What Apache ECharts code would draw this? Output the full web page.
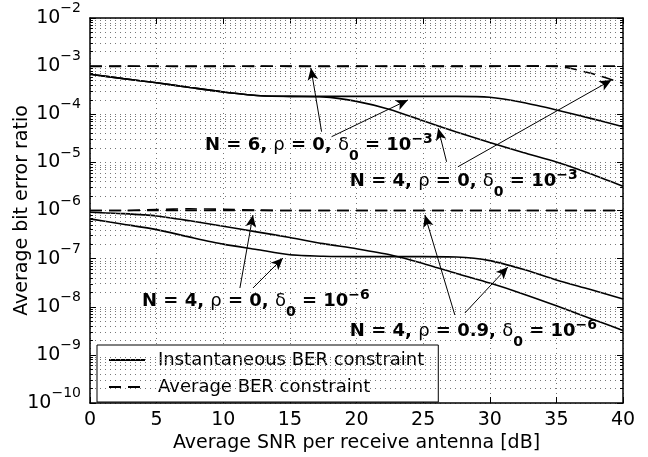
<!DOCTYPE html>
<html><head><meta charset="utf-8">
<script src="https://cdn.jsdelivr.net/npm/echarts@6/dist/echarts.min.js"></script>
<style>html,body{margin:0;padding:0;background:#fff}#c{width:648px;height:457px}</style>
</head><body><div id="c"></div>
<script>
// ---- data (BER values) ----
const snr = [0,2.5,5,7.5,10,12.5,15,17.5,20,22.5,25,27.5,30,32.5,35,37.5,40];
const instN6Rho0D3 = [6.8e-4,5.5e-4,4.5e-4,3.6e-4,2.9e-4,2.45e-4,2.35e-4,2.35e-4,2.35e-4,2.35e-4,2.35e-4,2.35e-4,2.25e-4,1.75e-4,1.23e-4,8.3e-5,5.5e-5];
const instN4Rho0D3 = [6.8e-4,5.5e-4,4.5e-4,3.6e-4,2.9e-4,2.45e-4,2.35e-4,2.3e-4,1.85e-4,1.26e-4,7.3e-5,4.3e-5,2.6e-5,1.6e-5,1.02e-5,5.9e-6,3.2e-6];
const avgN6Rho0D3 = [1e-3,1e-3,9.9e-4,1e-3,1e-3,9.9e-4,1e-3,1e-3,1e-3,9.9e-4,1e-3,1e-3,1e-3,1e-3,1e-3,1e-3,1e-3];
const avgN4Rho0D3 = [9.8e-4,9.9e-4,1e-3,9.8e-4,9.9e-4,1e-3,9.9e-4,9.8e-4,9.9e-4,1e-3,9.9e-4,9.9e-4,9.9e-4,1e-3,9.9e-4,7.2e-4,4.4e-4];
const instN4Rho09D6 = [9.2e-7,8.6e-7,7.7e-7,6.1e-7,4.7e-7,3.6e-7,2.75e-7,2.05e-7,1.6e-7,1.2e-7,7.9e-8,4.9e-8,3.1e-8,1.85e-8,1.05e-8,5.8e-9,3.2e-9];
const instN4Rho0D6 = [6.7e-7,5.2e-7,4.0e-7,2.8e-7,2.0e-7,1.55e-7,1.2e-7,1.12e-7,1.1e-7,1.1e-7,1.1e-7,1.08e-7,9.1e-8,6.0e-8,3.6e-8,2.3e-8,1.45e-8];
const avgN4Rho0D6 = [1e-6,1e-6,1e-6,1e-6,1e-6,1e-6,1e-6,1e-6,1e-6,1e-6,1e-6,1e-6,1e-6,1e-6,1e-6,1e-6,1e-6];
const avgN4Rho09D6 = [1e-6,1e-6,1.05e-6,1.08e-6,1.06e-6,1.02e-6,1e-6,1e-6,1e-6,1e-6,1e-6,1e-6,1e-6,1e-6,1e-6,1e-6,1e-6];

const xTickStep = 5;
const yDecades = [-10,-9,-8,-7,-6,-5,-4,-3,-2];
const minorMultipliers = [2,3,4,5,6,7,8,9];

// annotation labels: N, rho, exponent of delta0, anchor (snr, ber)
const annN = [6, 4, 4, 4];
const annRho = ['0', '0', '0', '0.9'];
const annExp = [-3, -3, -6, -6];
const annSnr = [8.63, 19.5, 3.9, 19.5];
const annBer = [2.3e-5, 3.97e-6, 1.31e-8, 3.13e-9];

// arrows: tail (snr, ber) -> head (snr, ber)
const arrTailSnr = [17.38, 18.13, 26.76, 27.61, 11.25, 12.23, 27.38, 28.13];
const arrTailBer = [4.34e-5, 3.42e-5, 1.03e-5, 8.1e-6, 2.45e-8, 2.45e-8, 6.75e-9, 7.4e-9];
const arrHeadSnr = [16.58, 23.86, 26.13, 39.14, 12.23, 14.48, 25.13, 31.36];
const arrHeadBer = [9.1e-4, 1.98e-4, 5.1e-5, 5.15e-4, 8.05e-7, 1.03e-7, 8.05e-7, 6.7e-8];

const INST = 'Instantaneous BER constraint';
const AVG = 'Average BER constraint';
const FONT = 'DejaVu Sans';
const MINUS = '\u2212';

const lg = v => Math.log10(v);
const toPts = arr => snr.map((x, i) => [x, lg(arr[i])]);

const minorGrid = [];
const minorTicks = [];
yDecades.slice(0, -1).forEach(d => minorMultipliers.forEach(k => {
  const y = d + lg(k);
  minorGrid.push({yAxis: y});
  minorTicks.push([{coord: [0, y]}, {coord: [0.22, y]}]);
  minorTicks.push([{coord: [39.78, y]}, {coord: [40, y]}]);
}));

const arrows = arrTailSnr.map((x, i) => [
  {coord: [x, lg(arrTailBer[i])]},
  {coord: [arrHeadSnr[i], lg(arrHeadBer[i])]}
]);

const annLabel = i => '{b|N = ' + annN[i] + ', }{g|\u03c1}{b| = ' + annRho[i] + ', }{g|\u03b4}{sub|0}{b| = 10}{sup|' + (annExp[i] < 0 ? MINUS + (-annExp[i]) : annExp[i]) + '}';

const solid = (arr) => ({
  type: 'line', name: INST, data: toPts(arr), symbol: 'none', smooth: 0.25, z: 3,
  lineStyle: {color: '#000', width: 1.6, type: 'solid'}, itemStyle: {color: '#000'}, silent: true
});
const dashed = (arr) => ({
  type: 'line', name: AVG, data: toPts(arr), symbol: 'none', smooth: 0.25, z: 3,
  lineStyle: {color: '#000', width: 1.6, type: [12, 7]}, itemStyle: {color: '#000'}, silent: true
});

const axisLineStyle = {show: true, onZero: false, lineStyle: {color: '#000', width: 1.5}};
const tickStyle = {show: true, inside: true, length: 6, lineStyle: {color: '#000', width: 1}};
const gridDots = {type: [1, 4], color: '#777', width: 1};

const chart = echarts.init(document.getElementById('c'), null, {renderer: 'canvas'});
chart.setOption({
  animation: false,
  backgroundColor: '#fff',
  textStyle: {fontFamily: FONT, color: '#000'},
  grid: {left: 90, right: 25, top: 18, bottom: 54, containLabel: false, outerBoundsMode: 'none'},
  legend: {
    data: [INST, AVG], orient: 'vertical', left: 97, top: 345,
    padding: [5, 14, 5, 11], itemGap: 7, itemWidth: 36, itemHeight: 3,
    itemStyle: {color: 'rgba(0,0,0,0)', borderColor: 'rgba(0,0,0,0)', borderWidth: 0, opacity: 0},
    backgroundColor: '#fff', borderColor: '#000', borderWidth: 1, borderRadius: 0,
    textStyle: {fontFamily: FONT, fontSize: 18, color: '#000', padding: [0, 0, 0, 8], lineHeight: 20},
    selectedMode: false
  },
  xAxis: [{
    type: 'value', min: 0, max: 40, interval: xTickStep, position: 'bottom',
    axisLine: axisLineStyle, axisTick: tickStyle,
    axisLabel: {fontFamily: FONT, fontSize: 19, color: '#000', margin: 8},
    splitLine: {show: true, lineStyle: gridDots},
    name: 'Average SNR per receive antenna [dB]', nameLocation: 'middle', nameGap: 31, nameMoveOverlap: false,
    nameTextStyle: {fontFamily: FONT, fontSize: 19, color: '#000'}
  }, {
    type: 'value', min: 0, max: 40, interval: xTickStep, position: 'top',
    axisLine: axisLineStyle, axisTick: tickStyle, axisLabel: {show: false}, splitLine: {show: false}
  }],
  yAxis: [{
    type: 'value', min: -10, max: -2, interval: 1, position: 'left',
    axisLine: axisLineStyle, axisTick: tickStyle,
    axisLabel: {
      margin: 9,
      formatter: v => '{b|10}{s|' + (v < 0 ? MINUS + (-v) : v) + '}',
      rich: {
        b: {fontFamily: FONT, fontSize: 19, color: '#000', lineHeight: 22, verticalAlign: 'middle'},
        s: {fontFamily: FONT, fontSize: 14, color: '#000', lineHeight: 14, verticalAlign: 'middle', padding: [0, 0, 19, 0]}
      }
    },
    splitLine: {show: true, lineStyle: gridDots},
    name: 'Average bit error ratio', nameLocation: 'middle', nameGap: 58, nameMoveOverlap: false,
    nameTextStyle: {fontFamily: FONT, fontSize: 19, color: '#000'}
  }, {
    type: 'value', min: -10, max: -2, interval: 1, position: 'right',
    axisLine: axisLineStyle, axisTick: tickStyle, axisLabel: {show: false}, splitLine: {show: false}
  }],
  series: [
    {
      type: 'line', name: 'grid', data: [], z: 1, silent: true,
      markLine: {silent: true, symbol: 'none', animation: false, label: {show: false},
        lineStyle: gridDots, data: minorGrid}
    },
    {
      type: 'line', name: 'ticks', data: [], z: 2, silent: true,
      markLine: {silent: true, symbol: 'none', animation: false, label: {show: false},
        lineStyle: {type: 'solid', color: '#000', width: 1}, data: minorTicks}
    },
    solid(instN6Rho0D3), solid(instN4Rho0D3), solid(instN4Rho09D6), solid(instN4Rho0D6),
    dashed(avgN6Rho0D3), dashed(avgN4Rho0D3), dashed(avgN4Rho0D6), dashed(avgN4Rho09D6),
    {
      type: 'line', name: 'arrows', data: [], z: 4, silent: true,
      markLine: {silent: true, symbol: ['none', 'arrow'], symbolSize: [8, 12], animation: false,
        label: {show: false}, lineStyle: {type: 'solid', color: '#000', width: 1}, data: arrows}
    },
    {
      type: 'scatter', name: 'labels', z: 5, silent: true, symbolSize: 0,
      itemStyle: {opacity: 1, color: '#000'},
      data: annSnr.map((x, i) => [x, lg(annBer[i])]),
      label: {
        show: true, position: 'right', distance: 0, color: '#000', opacity: 1, textBorderWidth: 0,
        formatter: p => annLabel(p.dataIndex),
        rich: {
          b: {fontFamily: FONT, fontSize: 18, fontWeight: 'bold', color: '#000', lineHeight: 22, verticalAlign: 'middle'},
          g: {fontFamily: FONT, fontSize: 18, fontWeight: 'normal', color: '#000', lineHeight: 22, verticalAlign: 'middle'},
          sub: {fontFamily: FONT, fontSize: 14, fontWeight: 'bold', color: '#000', lineHeight: 14, verticalAlign: 'middle', padding: [22, 0, 0, 0]},
          sup: {fontFamily: FONT, fontSize: 14, fontWeight: 'bold', color: '#000', lineHeight: 14, verticalAlign: 'middle', padding: [0, 0, 12, 0]}
        }
      }
    }
  ]
});
</script></body></html>
